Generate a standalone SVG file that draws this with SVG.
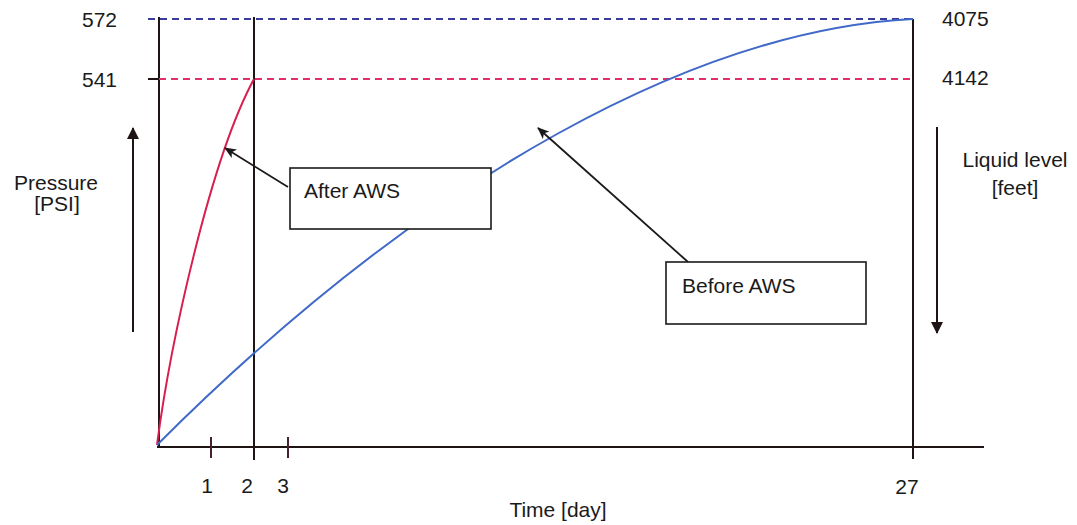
<svg xmlns="http://www.w3.org/2000/svg" width="1077" height="525" viewBox="0 0 1077 525">
<defs>
<style>
text{font-family:"Liberation Sans",Arial,sans-serif;font-size:21px;fill:#1a1a1a}
.ax{stroke:#1e1414;stroke-width:2;fill:none}
.tk{stroke:#4a2030;stroke-width:2;fill:none}
.box{fill:#fff;stroke:#1a1a1a;stroke-width:1.6}
.ptr{stroke:#1a1a1a;stroke-width:1.8;fill:none;marker-end:url(#ah)}
.big{stroke:#1e1414;stroke-width:2;fill:none;marker-end:url(#ah2)}
</style>
<marker id="ah" markerWidth="12" markerHeight="10" refX="11" refY="5" orient="auto" markerUnits="userSpaceOnUse">
<path d="M0,0 L12,5 L0,10 L3,5 Z" fill="#1a1a1a"/>
</marker>
<marker id="ah2" markerWidth="12" markerHeight="12" refX="11" refY="6" orient="auto" markerUnits="userSpaceOnUse">
<path d="M0,0 L12,6 L0,12 Z" fill="#1e1414"/>
</marker>
</defs>
<rect width="1077" height="525" fill="#fff"/>
<g id="axes">
<line class="ax" x1="159" y1="17" x2="159" y2="447"/>
<line class="ax" x1="157" y1="447" x2="984" y2="447"/>
<line class="ax" x1="254" y1="17" x2="254" y2="460"/>
<line class="ax" x1="913" y1="19" x2="913" y2="459"/>
<line class="ax" x1="148" y1="79" x2="159" y2="79"/>
<line class="tk" x1="211" y1="437" x2="211" y2="458"/>
<line class="tk" x1="288" y1="437" x2="288" y2="458"/>
</g>
<g id="reference-lines">
<line x1="148" y1="19" x2="913" y2="19" stroke="#3a3c99" stroke-width="2" stroke-dasharray="7,5"/>
<line x1="159" y1="79" x2="913" y2="79" stroke="#e0306a" stroke-width="1.8" stroke-dasharray="7,5"/>
</g>
<g id="curves">
<path d="M157,445 C170,345 210,160 254,79" fill="none" stroke="#d81e4e" stroke-width="2"/>
<path d="M157,445 C430,172 700,30 913,19" fill="none" stroke="#4169c8" stroke-width="2"/>
</g>
<g id="labels">
<text x="82" y="27">572</text>
<text x="82" y="87">541</text>
<text x="942" y="26">4075</text>
<text x="942" y="85">4142</text>
<text x="56" y="190" text-anchor="middle">Pressure</text>
<text x="57" y="211" text-anchor="middle">[PSI]</text>
<text x="1015" y="167" text-anchor="middle">Liquid level</text>
<text x="1015" y="195" text-anchor="middle">[feet]</text>
<text x="207" y="493" text-anchor="middle">1</text>
<text x="247" y="493" text-anchor="middle">2</text>
<text x="283" y="493" text-anchor="middle">3</text>
<text x="907" y="494" text-anchor="middle">27</text>
<text x="558" y="517" text-anchor="middle">Time [day]</text>
</g>
<g id="connectors">
<line class="big" x1="133" y1="332" x2="133" y2="128"/>
<line class="big" x1="937" y1="127" x2="937" y2="333"/>
<line class="ptr" x1="288" y1="187" x2="225" y2="148"/>
<line class="ptr" x1="688" y1="262" x2="538" y2="128"/>
</g>
<g id="after-aws">
<rect class="box" x="290" y="168" width="201" height="61"/>
<text x="304" y="198">After AWS</text>
</g>
<g id="before-aws">
<rect class="box" x="666" y="262" width="200" height="62"/>
<text x="682" y="293">Before AWS</text>
</g>
</svg>
